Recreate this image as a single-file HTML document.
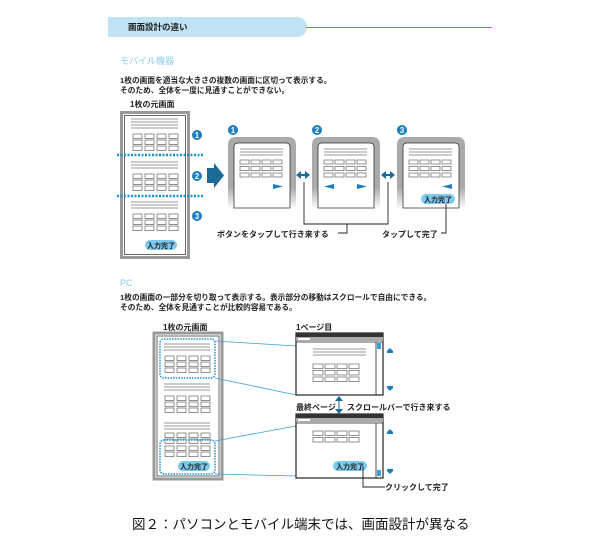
<!DOCTYPE html>
<html><head><meta charset="utf-8"><style>
html,body{margin:0;padding:0;background:#fff;width:600px;height:543px;overflow:hidden}
text{font-family:"Liberation Sans","Noto Sans CJK JP",sans-serif}
</style></head><body>
<svg id="s" width="600" height="543" viewBox="0 0 600 543" xmlns="http://www.w3.org/2000/svg">
<defs>
<linearGradient id="fade" x1="0" y1="0" x2="0" y2="1"><stop offset="0.7" stop-color="#aaa"/><stop offset="1" stop-color="#fff"/></linearGradient>
</defs>
<path d="M108 17 H297 A10 10 0 0 1 307 27 A10 10 0 0 1 297 37 H108 Z" fill="#bfe3f5"/>
<line x1="306" y1="27.5" x2="492" y2="27.5" stroke="#2aa0d8" stroke-width="1"/>
<text x="128" y="30" font-size="8.5" font-weight="bold" fill="#222">画面設計の違い</text>
<text x="120" y="64" font-size="9" fill="#8ccbeb">モバイル機器</text>
<text x="120" y="83" font-size="7.7" font-weight="bold" fill="#222">1枚の画面を適当な大きさの複数の画面に区切って表示する。</text>
<text x="120" y="93" font-size="7.7" font-weight="bold" fill="#222">そのため、全体を一度に見通すことができない。</text>
<text x="130" y="107" font-size="8" font-weight="bold" fill="#222">1枚の元画面</text>
<rect x="121.5" y="112.5" width="67" height="145" fill="#fff" stroke="#999" stroke-width="3"/>
<rect x="124.5" y="115.5" width="61" height="139" fill="#fff" stroke="#444" stroke-width="0.8"/>
<g id="g1"></g>
<line x1="117" y1="155" x2="204" y2="155" stroke="#1e90d0" stroke-width="2.5" stroke-dasharray="2 1.5"/>
<line x1="117" y1="196" x2="204" y2="196" stroke="#1e90d0" stroke-width="2.5" stroke-dasharray="2 1.5"/>
<g font-size="8" font-weight="bold" fill="#fff" text-anchor="middle">
<circle cx="197" cy="135" r="5" fill="#1a7fc0"/><text x="197" y="138">1</text>
<circle cx="197" cy="176" r="5" fill="#1a7fc0"/><text x="197" y="179">2</text>
<circle cx="197" cy="216" r="5" fill="#1a7fc0"/><text x="197" y="219">3</text>
<circle cx="233" cy="130" r="5" fill="#1a7fc0"/><text x="233" y="133">1</text>
<circle cx="317" cy="130" r="5" fill="#1a7fc0"/><text x="317" y="133">2</text>
<circle cx="402" cy="130" r="5" fill="#1a7fc0"/><text x="402" y="133">3</text>
</g>
<rect x="145" y="240" width="32" height="10" rx="5" fill="#7cc8ee"/>
<text x="161" y="248" font-size="7" font-weight="bold" fill="#222" text-anchor="middle">入力完了</text>
<path d="M207 168 H214 V163 L224 175.5 L214 188 V183 H207 Z" fill="#1a6a96"/>
<g id="phones"></g>
<g fill="#1a6a96">
<path d="M296 175 L301 171 V179 Z M310 175 L305 171 V179 Z"/><rect x="300" y="174" width="6" height="2"/>
<path d="M381 175 L386 171 V179 Z M395 175 L390 171 V179 Z"/><rect x="385" y="174" width="6" height="2"/>
</g>
<g fill="none" stroke="#222" stroke-width="0.9">
<path d="M304 182 V224 H388 V182"/>
<path d="M347 224 V233 H338"/>
<path d="M446 200 V233 H441"/>
</g>
<text x="217" y="237" font-size="8" font-weight="bold" fill="#222">ボタンをタップして行き来する</text>
<text x="382" y="237" font-size="8" font-weight="bold" fill="#222">タップして完了</text>
<rect x="421" y="194" width="34" height="10" rx="5" fill="#7cc8ee"/>
<text x="438" y="202" font-size="7" font-weight="bold" fill="#222" text-anchor="middle">入力完了</text>
<text x="120" y="286" font-size="9" fill="#8ccbeb">PC</text>
<text x="120" y="300" font-size="7.7" font-weight="bold" fill="#222">1枚の画面の一部分を切り取って表示する。表示部分の移動はスクロールで自由にできる。</text>
<text x="120" y="310" font-size="7.7" font-weight="bold" fill="#222">そのため、全体を見通すことが比較的容易である。</text>
<text x="163" y="330" font-size="8" font-weight="bold" fill="#222">1枚の元画面</text>
<text x="296" y="330" font-size="8" font-weight="bold" fill="#222">1ページ目</text>
<rect x="154" y="333" width="68" height="146" fill="#fff" stroke="#999" stroke-width="3"/>
<rect x="157" y="336" width="62" height="140" fill="#fff" stroke="#444" stroke-width="0.8"/>
<g id="g2"></g>
<rect x="160" y="339" width="55" height="39" rx="4" fill="none" stroke="#1e90d0" stroke-width="1.5" stroke-dasharray="1.5 1.2"/>
<rect x="160" y="440" width="55" height="34" rx="4" fill="none" stroke="#1e90d0" stroke-width="1.5" stroke-dasharray="1.5 1.2"/>
<rect x="178" y="461" width="32" height="10" rx="5" fill="#7cc8ee"/>
<text x="194" y="469" font-size="7" font-weight="bold" fill="#222" text-anchor="middle">入力完了</text>
<g stroke="#3aa0d8" stroke-width="0.8">
<line x1="215" y1="341" x2="296" y2="346"/><line x1="215" y1="378" x2="296" y2="395"/>
<line x1="215" y1="441" x2="296" y2="426"/><line x1="215" y1="474" x2="296" y2="476"/>
</g>
<g id="wins"></g>
<rect x="333" y="461" width="34" height="10" rx="5" fill="#7cc8ee"/>
<text x="350" y="469" font-size="7" font-weight="bold" fill="#222" text-anchor="middle">入力完了</text>
<path d="M339 396 L335 401 H338.5 V409 H335 L339 414 L343 409 H339.5 V401 H343 Z" fill="#1a6a96"/>
<text x="296" y="410" font-size="8" font-weight="bold" fill="#222">最終ページ</text>
<text x="347" y="410" font-size="8" font-weight="bold" fill="#222">スクロールバーで行き来する</text>
<path d="M363 466 V487 H385" fill="none" stroke="#222" stroke-width="0.9"/>
<text x="385" y="490" font-size="8" font-weight="bold" fill="#222">クリックして完了</text>
<text x="132" y="529" font-size="13.5" fill="#111">図２：パソコンとモバイル端末では、画面設計が異なる</text>
</svg>
<script>
var NS="http://www.w3.org/2000/svg";
function el(p,t,a){var e=document.createElementNS(NS,t);for(var k in a)e.setAttribute(k,a[k]);p.appendChild(e);return e;}
function section(g,x0,y0,lw,nl,bx,bw,bh,gap,rows,rg,ly){
 for(var i=0;i<nl;i++)el(g,"line",{x1:x0,y1:y0+i*3,x2:x0+lw,y2:y0+i*3,stroke:"#777","stroke-width":0.7});
 for(var r=0;r<rows;r++)for(var c=0;c<4;c++)el(g,"rect",{x:bx+c*gap,y:ly+r*rg,width:bw,height:bh,fill:"#fff",stroke:"#666","stroke-width":0.7});
}
var g1=document.getElementById("g1");
section(g1,131,119,47,4,133,9,4.5,12,3,6,134);
section(g1,131,162,47,3,133,9,4.5,12,3,6,174);
section(g1,131,202,47,3,133,9,4.5,12,3,6,214);
var g2=document.getElementById("g2");
section(g2,164,344,46,3,165,9,4.5,12,3,6,356);
section(g2,164,384,46,3,165,9,4.5,12,3,6,396);
section(g2,164,423,46,3,165,9,4.5,12,2,6,433);
section(g2,164,453,0,0,165,9,4.5,12,2,6,446);
var ph=document.getElementById("phones");
[228,312,397].forEach(function(x,i){
 el(ph,"path",{d:"M"+x+" 209 V145 Q"+x+" 137 "+(x+8)+" 137 H"+(x+60)+" Q"+(x+68)+" 137 "+(x+68)+" 145 V209 Z",fill:"url(#fade)"});
 el(ph,"path",{d:"M"+(x+6)+" 208 V147 Q"+(x+6)+" 143 "+(x+10)+" 143 H"+(x+58)+" Q"+(x+62)+" 143 "+(x+62)+" 147 V208 Z",fill:"#fff",stroke:"#333","stroke-width":0.8});
 section(ph,x+12,149,43,3,x+12,9,4,11,3,6.5,160);
 if(i<2)el(ph,"path",{d:"M"+(x+45)+" 184 L"+(x+55)+" 186.5 L"+(x+45)+" 189 Z",fill:"#1a7fc0"});
 if(i>0)el(ph,"path",{d:"M"+(x+(i==2?55:22))+" 184 L"+(x+(i==2?45:12))+" 186.5 L"+(x+(i==2?55:22))+" 189 Z",fill:"#1a7fc0"});
});
var w=document.getElementById("wins");
[[333,395],[414,478]].forEach(function(p,i){
 var y=p[0],b=p[1];
 el(w,"rect",{x:296,y:y,width:87,height:b-y,fill:"#fff",stroke:"#222","stroke-width":1.2});
 el(w,"rect",{x:296,y:y,width:87,height:4,fill:"#333"});
 el(w,"rect",{x:296,y:y+4,width:87,height:4,fill:"#aaa"});
 el(w,"rect",{x:298,y:y+5,width:12,height:2,fill:"#fff"});
 el(w,"line",{x1:296,y1:y+9,x2:383,y2:y+9,stroke:"#222","stroke-width":0.8});
 el(w,"line",{x1:376,y1:y+9,x2:376,y2:b,stroke:"#222","stroke-width":0.8});
 el(w,"rect",{x:377,y:i==0?y+10:b-8,width:4,height:6,fill:"#3aa0d8"});
 el(w,"path",{d:"M387 "+(y+18)+" L390 "+(y+15)+" L393 "+(y+18)+" V"+(y+20)+" H387 Z",fill:"#1a7fc0"});
 el(w,"path",{d:"M387 "+(b-9)+" H393 V"+(b-7)+" L390 "+(b-4)+" L387 "+(b-7)+" Z",fill:"#1a7fc0"});
 if(i==0){section(w,313,y+16,53,3,313,10,4.5,12,3,6.5,y+31);}
 else{section(w,313,0,0,0,313,10,4.5,12,2,6.5,y+17);}
});
</script>
</body></html>
